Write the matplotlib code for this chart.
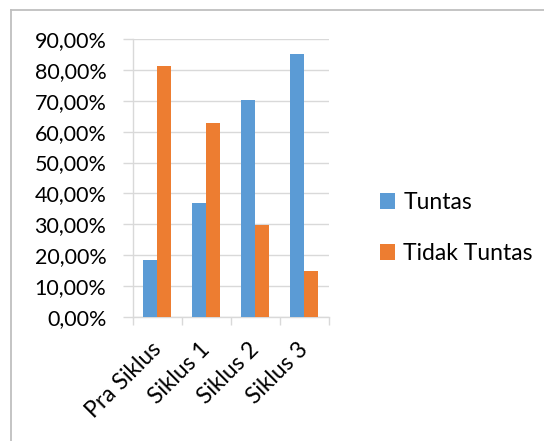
import matplotlib
matplotlib.use("Agg")
import matplotlib.pyplot as plt
from matplotlib.lines import Line2D
from matplotlib.ticker import FuncFormatter, MultipleLocator
from matplotlib.transforms import ScaledTranslation
import numpy as np

categories = ["Pra Siklus", "Siklus 1", "Siklus 2", "Siklus 3"]
tuntas = [18.52, 37.04, 70.37, 85.19]
tidak_tuntas = [81.48, 62.96, 29.63, 14.81]
series_names = ["Tuntas", "Tidak Tuntas"]

plt.rcParams['font.family'] = ['Lato', 'DejaVu Sans']

W, H = 544, 441
fig = plt.figure(figsize=(W / 100, H / 100), dpi=100)
ax = fig.add_axes([132.7 / W, 1 - 316.7 / H, (329 - 132.7) / W, (316.7 - 39.3) / H])

x = np.arange(len(categories))
bw = 0.286
grid_c = "#d9d9d9"
ax.bar(x - bw / 2, tuntas, bw, color="#5B9BD5", label=series_names[0], zorder=3)
ax.bar(x + bw / 2, tidak_tuntas, bw, color="#ED7D31", label=series_names[1], zorder=3)

ax.set_xlim(-0.5, len(categories) - 0.5)
ax.set_ylim(0, 90)
ax.yaxis.set_major_locator(MultipleLocator(10))
ax.yaxis.set_major_formatter(FuncFormatter(lambda v, p: f"{v:.2f}%".replace(".", ",")))
ax.grid(axis="y", color=grid_c, linewidth=1, zorder=0)
for s in ["top", "right"]:
    ax.spines[s].set_visible(False)
for s in ["left", "bottom"]:
    ax.spines[s].set_color(grid_c)
    ax.spines[s].set_linewidth(1)

ax.set_xticks(np.arange(-0.5, len(categories), 1.0))
ax.set_xticklabels([])
ax.set_xticks(x, minor=True)
ax.set_xticklabels(categories, minor=True, rotation=45, ha="right", va="top",
                   fontsize=16.5, color="#000000")
ax.tick_params(axis="x", which="major", length=6, color=grid_c, width=1)
ax.tick_params(axis="x", which="minor", length=0, pad=12)
ax.tick_params(axis="y", length=7, color=grid_c, width=1, pad=12, labelsize=15.5,
               labelcolor="#000000")
off = ScaledTranslation(8 / 100, -5 / 100, fig.dpi_scale_trans)
for lbl in ax.get_xticklabels(minor=True):
    lbl.set_transform(lbl.get_transform() + off)

fig.legend(loc="center left", bbox_to_anchor=(371 / W, 1 - 228 / H), frameon=False,
           fontsize=16.5, handlelength=0.66, handleheight=0.66, handletextpad=0.35,
           labelspacing=1.3, borderaxespad=0)

fig.add_artist(Line2D([10.5 / W, 1.0], [1 - 9.5 / H, 1 - 9.5 / H], color="#bfbfbf", lw=1.3))
fig.add_artist(Line2D([10.5 / W, 10.5 / W], [1 - 9.5 / H, 0], color="#bfbfbf", lw=1.3))

fig.savefig("out.png", dpi=100)
